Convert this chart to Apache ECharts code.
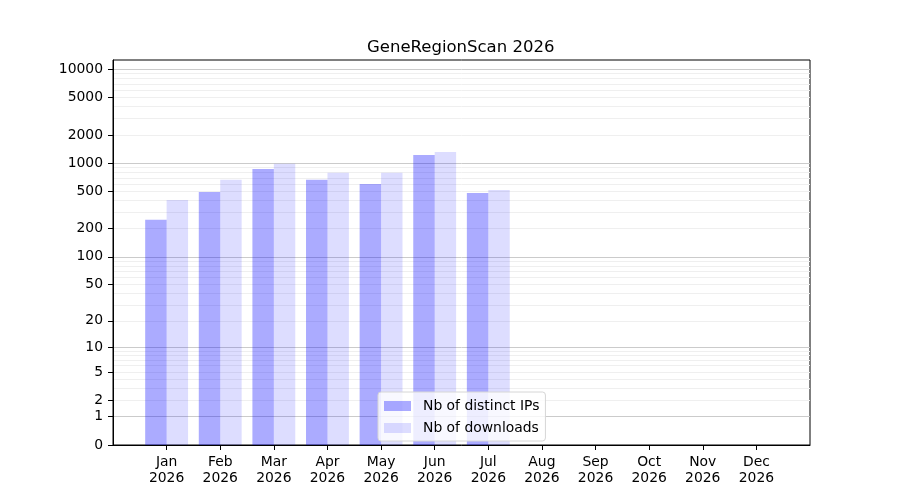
<!DOCTYPE html>
<html>
<head>
<meta charset="UTF-8">
<title>GeneRegionScan 2026</title>
<script src="https://cdn.jsdelivr.net/npm/echarts@6/dist/echarts.min.js"></script>
<style>
  html, body { margin: 0; padding: 0; background: #fff; }
  #main { width: 900px; height: 500px; }
</style>
</head>
<body>
<div id="main"></div>
<script>
// data
var year = '2026';
var months = ['Jan', 'Feb', 'Mar', 'Apr', 'May', 'Jun', 'Jul', 'Aug', 'Sep', 'Oct', 'Nov', 'Dec'];
var distinctIps = [250, 495, 870, 665, 600, 1225, 482, null, null, null, null, null];
var downloads = [405, 665, 990, 790, 790, 1320, 520, null, null, null, null, null];

// y tick labels and grid lines (symlog-like scale: log10(1 + v))
var yTicks = [0, 1, 2, 5, 10, 20, 50, 100, 200, 500, 1000, 2000, 5000, 10000];
var majorGrid = [1, 10, 100, 1000, 10000];
var minorGrid = [2, 3, 4, 5, 6, 7, 8, 9,
                 20, 30, 40, 50, 60, 70, 80, 90,
                 200, 300, 400, 500, 600, 700, 800, 900,
                 2000, 3000, 4000, 5000, 6000, 7000, 8000, 9000];

function tf(v) { return Math.log10(1 + v); }
function untf(t) { return Math.round(Math.pow(10, t) - 1); }

var yMax = 4.1;
var font = 'DejaVu Sans';
var monthIdx = months.map(function (m, i) { return i; });

function pairs(arr) {
  var out = [];
  arr.forEach(function (v, i) { if (v != null) out.push([i, tf(v)]); });
  return out;
}

// invisible axes only used to draw the grid lines
function gridAxis(values, color) {
  return {
    type: 'value', min: 0, max: yMax,
    position: 'left',
    axisLine: { show: false, onZero: false },
    axisLabel: { show: false },
    axisTick: { show: false, customValues: values.map(tf) },
    splitLine: { show: true, lineStyle: { color: color, width: 1 } }
  };
}

var myChart = echarts.init(document.getElementById('main'), null, { renderer: 'canvas' });

var option = {
  animation: false,
  backgroundColor: '#fff',
  title: {
    text: 'GeneRegionScan ' + year,
    left: 367,   // centred over the plot area, not the page
    top: 39,
    padding: 0,
    textStyle: { fontFamily: font, fontSize: 16.5, fontWeight: 'normal', color: '#000' }
  },
  legend: {
    orient: 'vertical',
    left: 378,
    top: 392,
    padding: [6, 6, 5, 6],
    itemWidth: 27,
    itemHeight: 10,
    itemGap: 6,
    icon: 'rect',
    backgroundColor: 'rgba(255,255,255,0.8)',
    borderColor: '#d6d6d6',
    borderWidth: 1,
    borderRadius: 3,
    textStyle: { fontFamily: font, fontSize: 13.9, color: '#000', lineHeight: 16, padding: [0, 0, 0, 7] },
    data: ['Nb of distinct IPs', 'Nb of downloads']
  },
  grid: {
    left: 113, right: 90, top: 60, bottom: 55,
    show: true, borderColor: '#000', borderWidth: 1, backgroundColor: 'transparent'
  },
  xAxis: {
    type: 'value', min: -1, max: 12,
    splitLine: { show: false },
    axisLine: { onZero: false, lineStyle: { color: '#000', width: 1 } },
    axisTick: { customValues: monthIdx, length: 5, lineStyle: { color: '#000' } },
    axisLabel: {
      customValues: monthIdx,
      margin: 10,
      fontFamily: font, fontSize: 13.9, color: '#000', lineHeight: 15.5,
      formatter: function (v) { return months[v] + '\n' + year; }
    }
  },
  yAxis: [
    {
      type: 'value', min: 0, max: yMax,
      position: 'left',
      axisLine: { show: true, onZero: false, lineStyle: { color: '#000', width: 1 } },
      axisTick: { show: true, customValues: yTicks.map(tf), length: 5, lineStyle: { color: '#000' } },
      axisLabel: {
        customValues: yTicks.map(tf),
        margin: 10,
        fontFamily: font, fontSize: 13.9, color: '#000',
        formatter: function (v) { return String(untf(v)); }
      },
      splitLine: { show: false }
    },
    gridAxis(majorGrid, '#cbcbcb'),
    gridAxis(minorGrid, '#efefef')
  ],
  series: [
    {
      name: 'Nb of distinct IPs',
      type: 'bar',
      yAxisIndex: 0,
      barWidth: '40%',
      barGap: '0%',
      itemStyle: { color: 'rgba(0,0,255,0.33)' },
      data: pairs(distinctIps)
    },
    {
      name: 'Nb of downloads',
      type: 'bar',
      yAxisIndex: 0,
      barWidth: '40%',
      barGap: '0%',
      itemStyle: { color: 'rgba(0,0,255,0.135)' },
      data: pairs(downloads)
    }
  ]
};

myChart.setOption(option);
</script>
</body>
</html>
